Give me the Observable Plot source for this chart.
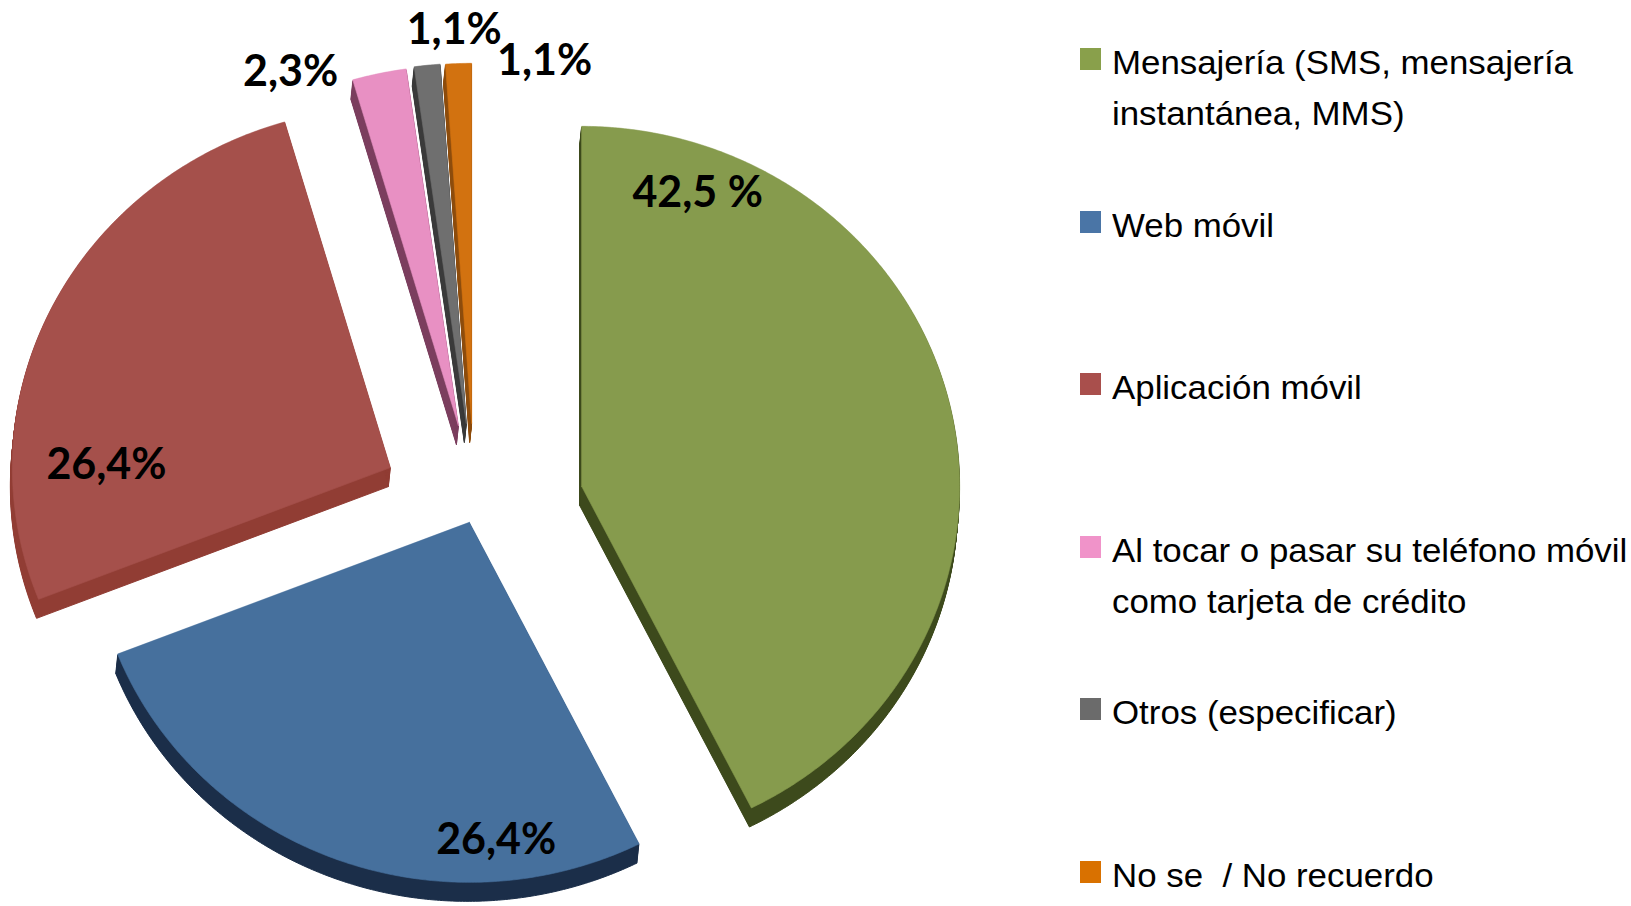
<!DOCTYPE html>
<html>
<head>
<meta charset="utf-8">
<script src="https://cdn.jsdelivr.net/npm/d3@7"></script>
<script src="https://cdn.jsdelivr.net/npm/@observablehq/plot@0.6"></script>
<style>
  html, body { margin: 0; padding: 0; background: #ffffff; }
  #wrap { position: relative; width: 1631px; height: 906px; overflow: hidden; background: #fff; }
  #chart { position: absolute; left: 0; top: 0; }
  #legend { position: absolute; left: 1080px; top: 0; width: 551px; height: 906px; }
  .item { position: absolute; left: 0; display: flex; align-items: flex-start; }
  .sw { width: 21px; height: 22px; margin-top: 11px; flex: none; }
  .lab { margin-left: 11px; font-size: 34px; line-height: 51px; white-space: pre; color: #000;
         transform-origin: 0 0; font-family: 'Liberation Sans', Arial, sans-serif; transform: scaleX(1.025); }
</style>
</head>
<body>
<div id="wrap">
  <div id="chart"></div>
  <div id="legend"></div>
</div>
<script>
// ---------------- data ----------------
const categories = [
  "Mensajería (SMS, mensajería\ninstantánea, MMS)",
  "Web móvil",
  "Aplicación móvil",
  "Al tocar o pasar su teléfono móvil\ncomo tarjeta de crédito",
  "Otros (especificar)",
  "No se  / No recuerdo"
];
const values = [42.5, 26.4, 26.4, 2.3, 1.1, 1.1];
const valueLabels = ["42,5 %", "26,4%", "26,4%", "2,3%", "1,1%", "1,1%"];

// ---------------- style / layout ----------------
const faceColors   = ["#869b4d", "#46709d", "#a5504b", "#e890c3", "#6f6f6f", "#d27210"];
const sideColors   = ["#3d4a1c", "#1b2e49", "#913d34", "#7b3e5e", "#3a3a3a", "#8d4c0c"];
const legendColors = ["#89a04b", "#4a75a6", "#a94f4c", "#f093c9", "#6b6b6b", "#d97100"];
// explode offset of each slice (in radius units; v points up)
const explode = [[0.294, -0.044], [-0.003, -0.144], [-0.212, 0.008], [-0.032, 0.125], [-0.011, 0.131], [0.003, 0.131]];
// label anchor relative to the slice apex (radius units)
const labelOffset = [[0.307, 0.814], [0.071, -0.883], [-0.751, 0.008], [-0.444, 0.981], [-0.032, 1.092], [0.193, 1.006]];

const W = 1040, H = 906, CX = 470, CY = 470, RX = 378, RY = 360;
const DEPTH = 19, SLANT = -2;

const rows = categories.map((c, i) => ({category: c, value: values[i], label: valueLabels[i], i}));
const arcs = d3.pie().sort(null).value(d => d.value).startAngle(0).endAngle(2 * Math.PI)(rows);

function slicePoints(a) {
  const i = a.data.i;
  const [ox, oy] = explode[i];
  const pts = [{u: ox, v: oy}];
  const n = Math.max(2, Math.ceil((a.endAngle - a.startAngle) / (Math.PI / 360)));
  for (let k = 0; k <= n; k++) {
    const t = a.startAngle + (a.endAngle - a.startAngle) * k / n;
    pts.push({u: ox + Math.sin(t), v: oy + Math.cos(t)});
  }
  pts.push({u: ox, v: oy});
  return pts;
}

const marks = [];
// extruded sides (drawn first)
for (const a of arcs) {
  const pts = slicePoints(a);
  const c = sideColors[a.data.i];
  for (let d = 1; d <= DEPTH; d++) {
    marks.push(Plot.line(pts, {x: "u", y: "v", fill: c, stroke: c, strokeWidth: 1, dx: SLANT * d / DEPTH, dy: d, curve: "linear"}));
  }
}
// top faces
for (const a of arcs) {
  const pts = slicePoints(a);
  marks.push(Plot.line(pts, {x: "u", y: "v", fill: faceColors[a.data.i], stroke: faceColors[a.data.i], strokeWidth: 0.6, curve: "linear"}));
}
// value labels
const labelRows = arcs.map(a => ({
  u: explode[a.data.i][0] + labelOffset[a.data.i][0],
  v: explode[a.data.i][1] + labelOffset[a.data.i][1],
  label: a.data.label
}));
marks.push(Plot.text(labelRows, {x: "u", y: "v", text: "label", fontSize: 43, fontWeight: "bold", fontFamily: "Lato, 'Open Sans', sans-serif", fill: "#000"}));

const plot = Plot.plot({
  width: W,
  height: H,
  margin: 0,
  x: {domain: [-CX / RX, (W - CX) / RX], axis: null},
  y: {domain: [-(H - CY) / RY, CY / RY], axis: null},
  style: {background: "transparent", overflow: "visible"},
  marks
});
document.getElementById("chart").appendChild(plot);

// ---------------- legend ----------------
const legend = document.getElementById("legend");
const PITCH = 162.6, FIRST_TOP = 37;
categories.forEach((c, i) => {
  const item = document.createElement("div");
  item.className = "item";
  item.style.top = (FIRST_TOP + i * PITCH) + "px";
  const sw = document.createElement("div");
  sw.className = "sw";
  sw.style.background = legendColors[i];
  const lab = document.createElement("div");
  lab.className = "lab";
  lab.textContent = c;
  item.appendChild(sw);
  item.appendChild(lab);
  legend.appendChild(item);
});
</script>
</body>
</html>
